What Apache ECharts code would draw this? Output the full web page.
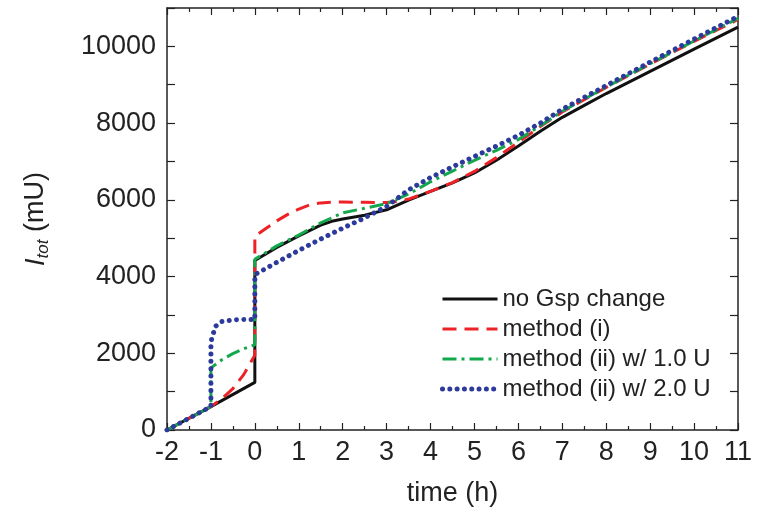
<!DOCTYPE html>
<html>
<head>
<meta charset="utf-8">
<script src="https://cdn.jsdelivr.net/npm/echarts@6/dist/echarts.min.js"></script>
<style>html,body{margin:0;padding:0;background:#fff}#c{width:757px;height:524px}</style>
</head>
<body>
<div id="c"></div>
<script>
// ---- data ----
const seriesNames = ['no Gsp change', 'method (i)', 'method (ii) w/ 1.0 U', 'method (ii) w/ 2.0 U'];

const tBlack = [-2, -1, 0, 0, 0.5, 1, 1.5, 1.75, 2, 2.5, 3, 3.5, 4, 4.5, 5, 5.5, 6, 6.5, 7, 7.5, 8, 9, 10, 11];
const vBlack = [0, 610, 1240, 4420, 4760, 5060, 5340, 5440, 5500, 5600, 5740, 5990, 6220, 6440, 6700, 7030, 7400, 7790, 8150, 8460, 8770, 9350, 9930, 10500];

const tRed = [-2, -1, -0.75, -0.5, -0.25, 0, 0, 0.25, 0.5, 0.75, 1, 1.25, 1.5, 1.75, 2, 2.5, 3, 3.25, 3.5, 4, 4.5, 5, 5.5, 6, 6.5, 7, 8, 9, 10, 11];
const vRed = [0, 610, 820, 1080, 1450, 1950, 5050, 5250, 5450, 5620, 5760, 5870, 5920, 5940, 5940, 5935, 5930, 5960, 6020, 6220, 6450, 6740, 7100, 7500, 7910, 8290, 8930, 9540, 10130, 10700];

const tGreen = [-2, -1, -1, -0.75, -0.5, -0.25, 0, 0, 0.5, 1, 1.5, 2, 2.5, 3, 3.5, 4, 4.5, 5, 5.5, 6, 6.5, 7, 8, 9, 10, 11];
const vGreen = [0, 610, 1620, 1830, 1990, 2120, 2220, 4450, 4800, 5080, 5400, 5660, 5780, 5900, 6150, 6470, 6750, 7030, 7290, 7570, 7930, 8310, 8940, 9550, 10140, 10730];

const tBlue = [-2, -1, -1, -0.9, -0.75, -0.5, -0.25, 0, 0, 0.5, 1, 1.5, 2, 2.5, 3, 3.5, 4, 4.5, 5, 5.5, 6, 6.5, 7, 8, 9, 10, 11];
const vBlue = [0, 610, 2300, 2700, 2830, 2870, 2880, 2880, 4050, 4370, 4680, 4980, 5260, 5530, 5830, 6260, 6580, 6860, 7130, 7400, 7680, 8000, 8360, 8980, 9590, 10190, 10780];

const xMin = -2, xMax = 11, yMin = 0, yMax = 11000;

// ---- build ----
const zip = (t, v) => t.map((x, i) => [x, v[i]]);
const FONT = 'Liberation Sans';
const chart = echarts.init(document.getElementById('c'));

const styles = [
  { color: '#111', width: 3, type: 'solid' },
  { color: '#ec2227', width: 3, type: [14, 8] },
  { color: '#12a84b', width: 3, type: [14, 5, 3, 5] },
  { color: '#2b3a9b', width: 5, type: [0.01, 7.3], cap: 'round' }
];

const baseX = {
  type: 'value', min: xMin, max: xMax, interval: 1,
  axisLine: { show: true, onZero: false, lineStyle: { color: '#222', width: 1.5 } },
  axisTick: { show: true, inside: true, length: 7, lineStyle: { color: '#222', width: 1.2 } },
  minorTick: { show: true, splitNumber: 2, length: 4, lineStyle: { color: '#222', width: 1.2 } },
  splitLine: { show: false }
};
const baseY = {
  type: 'value', min: yMin, max: yMax, interval: 1000,
  axisLine: { show: true, onZero: false, lineStyle: { color: '#222', width: 1.5 } },
  axisTick: { show: true, inside: true, length: 8, lineStyle: { color: '#222', width: 1.2 } },
  splitLine: { show: false }
};

chart.setOption({
  animation: false,
  backgroundColor: '#fff',
  textStyle: { fontFamily: FONT },
  grid: { left: 167, right: 19, top: 8, bottom: 94, containLabel: false },
  legend: {
    left: 435, top: 281, orient: 'vertical',
    itemWidth: 55, itemHeight: 14, itemGap: 4,
    textStyle: { fontFamily: FONT, fontSize: 24, color: '#222', lineHeight: 26 },
    itemStyle: { opacity: 0 },
    data: seriesNames.map((n, i) => ({ name: n, lineStyle: Object.assign({}, styles[i]), itemStyle: { opacity: 0 } }))
  },
  xAxis: [
    Object.assign({}, baseX, {
      position: 'bottom',
      axisLabel: { show: true, margin: 9, fontFamily: FONT, fontSize: 27, color: '#222' },
      name: 'time (h)', nameLocation: 'middle', nameGap: 50,
      nameTextStyle: { fontFamily: FONT, fontSize: 27, color: '#222' }
    }),
    Object.assign({}, baseX, { position: 'top', axisLabel: { show: false } })
  ],
  yAxis: [
    Object.assign({}, baseY, {
      position: 'left',
      axisLabel: {
        show: true, margin: 11, fontFamily: FONT, fontSize: 27, color: '#222',
        formatter: v => (v % 2000 === 0 && v <= 10000) ? String(v) : ''
      },
      name: '{i|I}{sub|tot}{n| (mU)}', nameLocation: 'middle', nameGap: 115, nameRotate: 90,
      nameTextStyle: {
        fontFamily: FONT, fontSize: 27, color: '#222',
        rich: {
          i: { fontFamily: FONT, fontSize: 27, fontStyle: 'italic', color: '#222', lineHeight: 32 },
          sub: { fontFamily: FONT, fontSize: 17, fontStyle: 'italic', color: '#222', verticalAlign: 'bottom', lineHeight: 20 },
          n: { fontFamily: FONT, fontSize: 27, color: '#222', lineHeight: 32 }
        }
      }
    }),
    Object.assign({}, baseY, { position: 'right', axisLabel: { show: false } })
  ],
  series: [
    { name: seriesNames[0], type: 'line', data: zip(tBlack, vBlack), showSymbol: false, symbol: 'none', z: 2, color: styles[0].color, lineStyle: styles[0] },
    { name: seriesNames[1], type: 'line', data: zip(tRed, vRed), showSymbol: false, symbol: 'none', z: 3, color: styles[1].color, lineStyle: styles[1] },
    { name: seriesNames[2], type: 'line', data: zip(tGreen, vGreen), showSymbol: false, symbol: 'none', z: 4, color: styles[2].color, lineStyle: styles[2] },
    { name: seriesNames[3], type: 'line', data: zip(tBlue, vBlue), showSymbol: false, symbol: 'none', z: 5, color: styles[3].color, lineStyle: styles[3] }
  ]
});
</script>
</body>
</html>
